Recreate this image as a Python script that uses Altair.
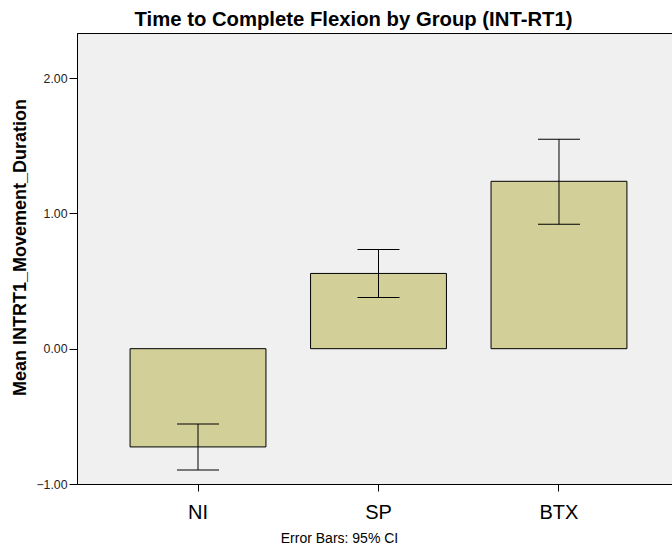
import altair as alt
import pandas as pd

groups = ["NI", "SP", "BTX"]
means = [-0.726, 0.556, 1.237]
ci_low = [-0.896, 0.378, 0.919]
ci_high = [-0.556, 0.733, 1.548]

df = pd.DataFrame({"group": groups, "mean": means, "lo": ci_low, "hi": ci_high, "zero": [0.0] * 3})

FONT = "Liberation Sans"

xscale = alt.Scale(range=[0, 603], paddingInner=0.247, paddingOuter=0.294)
yscale = alt.Scale(domain=[-1, 2.333], nice=False, zero=False)

xenc = alt.X(
    "group:N", sort=groups, scale=xscale,
    axis=alt.Axis(
        title="Error Bars: 95% CI", labelAngle=0, labelFontSize=20, labelColor="black",
        labelFont=FONT, labelPadding=11, tickSize=7, tickColor="black", domainColor="black",
        titleFont=FONT, titleFontSize=14, titleFontWeight="normal", titleColor="black",
        titleX=262, titleY=58, titleBaseline="alphabetic", titleAnchor="middle",
    ),
)
yenc = alt.Y(
    "mean:Q", scale=yscale,
    axis=alt.Axis(
        title="Mean INTRT1_Movement_Duration", values=[-1, 0, 1, 2], format=".2f",
        grid=False, labelFontSize=12.3, labelColor="#222", labelFont=FONT, labelPadding=2,
        tickSize=8, tickColor="black", domainColor="black",
        titleFont=FONT, titleFontSize=18, titleFontWeight="bold", titleColor="black",
        titleX=-52, titleY=214, titleBaseline="alphabetic", titleAngle=270,
    ),
)

bars = alt.Chart(df).mark_bar(color="#d3cf98", stroke="black", strokeWidth=1, opacity=1).encode(
    x=xenc, y=yenc, y2="zero:Q"
)
rule = alt.Chart(df).mark_rule(color="black", strokeWidth=1, opacity=1).encode(
    x=alt.X("group:N", sort=groups, scale=xscale), y=alt.Y("lo:Q", scale=yscale), y2="hi:Q"
)
cap_lo = alt.Chart(df).mark_tick(color="black", size=42, thickness=1, orient="horizontal", opacity=1).encode(
    x=alt.X("group:N", sort=groups, scale=xscale), y=alt.Y("lo:Q", scale=yscale)
)
cap_hi = alt.Chart(df).mark_tick(color="black", size=42, thickness=1, orient="horizontal", opacity=1).encode(
    x=alt.X("group:N", sort=groups, scale=xscale), y=alt.Y("hi:Q", scale=yscale)
)

chart = alt.layer(bars, rule, cap_lo, cap_hi).properties(
    width=595, height=451,
    autosize=alt.AutoSizeParams(type="none"),
    padding={"left": 77, "top": 33, "right": 0, "bottom": 62},
    title=alt.TitleParams(
        "Time to Complete Flexion by Group (INT-RT1)", font=FONT, fontSize=20.3,
        fontWeight="bold", color="black", anchor="middle", dx=-21, offset=3,
    ),
    background="white",
).configure_view(fill="#f0f0f0", stroke="black", strokeWidth=1)

chart.save("out.html", embed_options={"renderer": "svg", "actions": False})
